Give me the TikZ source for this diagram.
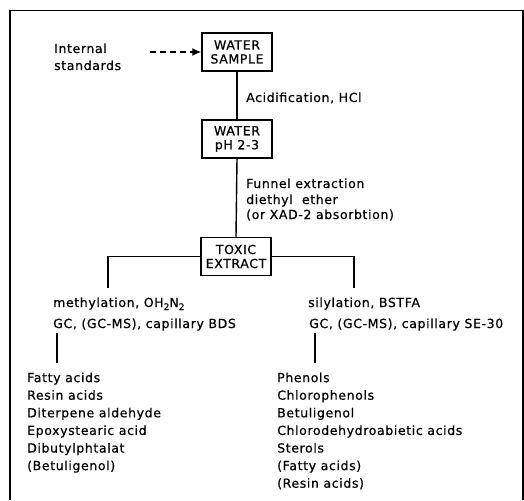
\documentclass[tikz,border=0pt]{standalone}
\usepackage{fontspec}
\setmainfont[LetterSpace=5,FakeBold=0.6]{DejaVu Sans}
\usetikzlibrary{arrows.meta}
\begin{document}
\begin{tikzpicture}[x=1pt,y=-1pt,
  every node/.style={inner sep=0pt, font=\fontsize{12.5}{14}\selectfont},
  txt/.style={anchor=base west},
  boxn/.style={draw, line width=1.5pt, minimum width=70pt, minimum height=38pt, align=center},
  ln/.style={line width=1.4pt}]
\useasboundingbox (0,0) rectangle (524,500);
% frame
\draw[line width=1.3pt] (10,500) -- (10,10.5) -- (523,10.5) -- (523,500);
% boxes
\node[boxn] (ws) at (237,52) {WATER\\SAMPLE};
\node[boxn] (wp) at (237,139) {WATER\\pH 2-3};
\node[boxn] (tx) at (236,256.5) {TOXIC\\EXTRACT};
% texts
\node[txt] (int) at (54,53) {Internal};
\node[txt] (std) at (54,70) {standards};
\node[txt] (acid) at (246,102) {Acidification, HCl};
\node[txt] (f1) at (246,188) {Funnel extraction};
\node[txt] (f2) at (246,204) {diethyl\ \ ether};
\node[txt] (f3) at (246,219) {(or XAD-2 absorbtion)};
\node[txt] (m1) at (53,307) {methylation, OH\raisebox{-3pt}{\fontsize{9}{9}\selectfont 2}N\raisebox{-3pt}{\fontsize{9}{9}\selectfont 2}};
\node[txt] (m2) at (53,328) {GC, (GC-MS), capillary BDS};
\node[txt] (s1) at (308,307) {silylation, BSTFA};
\node[txt] (s2) at (309,328) {GC, (GC-MS), capillary SE-30};
\foreach \t [count=\i] in {Fatty acids, Resin acids, Diterpene aldehyde, Epoxystearic acid, Dibutylphtalat, (Betuligenol)}
  \node[txt] (L\i) at (27,364.5+17.6*\i) {\t};
\foreach \t [count=\i] in {Phenols, Chlorophenols, Betuligenol, Chlorodehydroabietic acids, Sterols, (Fatty acids), (Resin acids)}
  \node[txt] (R\i) at (277,364.5+17.6*\i) {\t};
% coordinates
\coordinate (is) at (150,52);
\coordinate (lb) at (108,288);
\coordinate (rb) at (354,288);
\coordinate (la) at (57,333);
\coordinate (lz) at (57,363);
\coordinate (ra) at (315,333);
\coordinate (rz) at (315,363);
% connectors
\draw[ln, dash pattern=on 6pt off 4pt, -{Latex[length=9pt,width=8pt]}] (is) -- (ws.west);
\draw[ln] (ws.south) -- (wp.north);
\draw[ln] (wp.south) -- (tx.north);
\draw[ln] (tx.west) -| (lb);
\draw[ln] (tx.east) -| (rb);
\draw[ln] (la) -- (lz);
\draw[ln] (ra) -- (rz);
\end{tikzpicture}
\end{document}
